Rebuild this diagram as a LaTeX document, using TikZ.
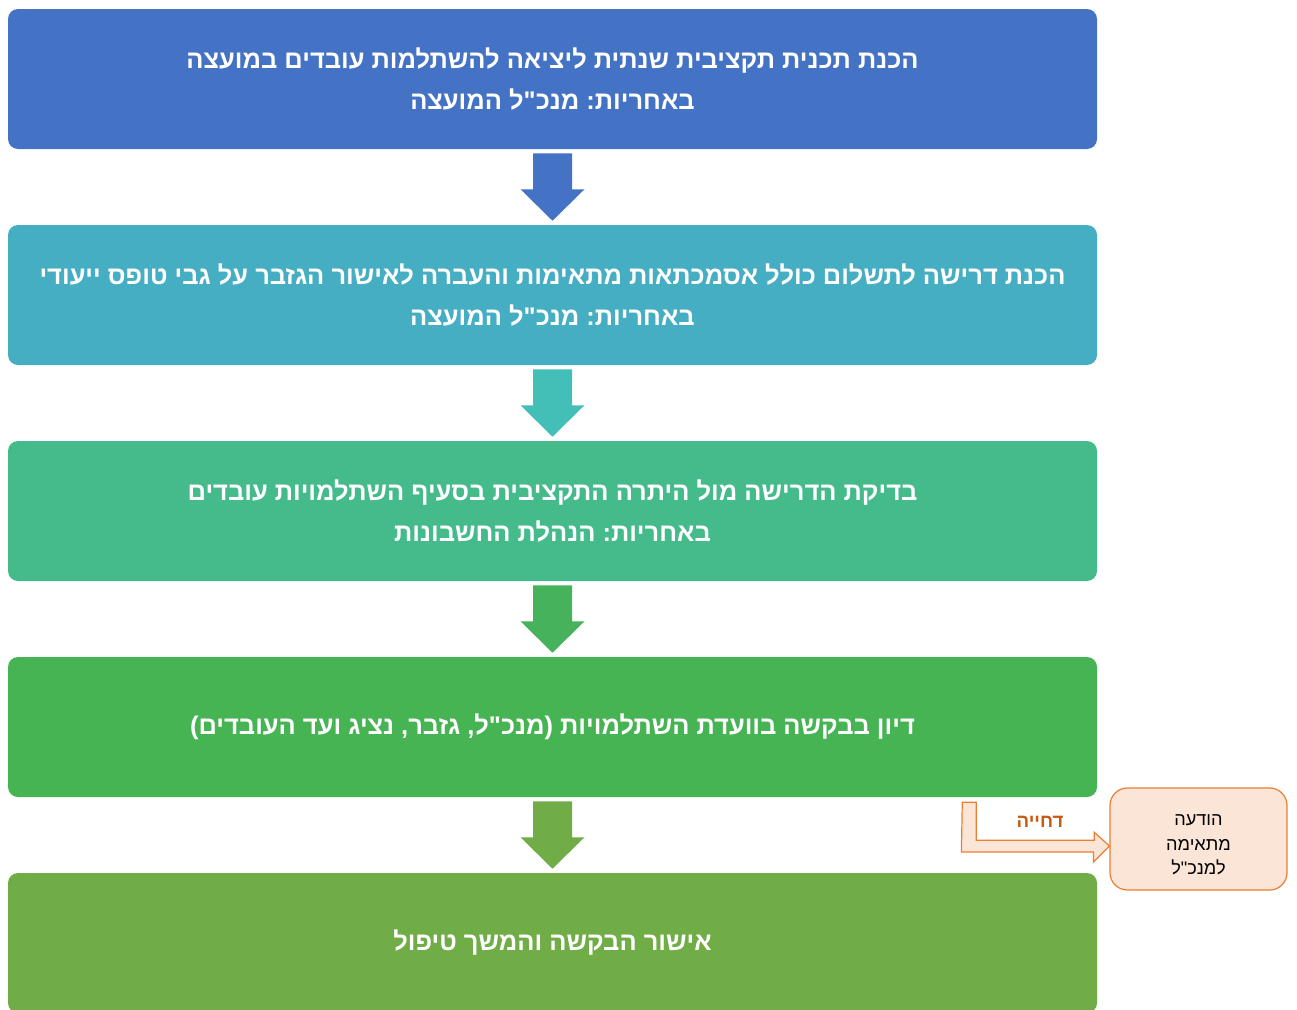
\documentclass[tikz,border=0pt]{standalone}
\usepackage{fontspec}
\setmainfont{Liberation Sans}
\newfontfamily\hebfont[Script=Hebrew]{Liberation Sans}
\TeXXeTstate=1
\frenchspacing
\usetikzlibrary{calc}
\definecolor{boxA}{HTML}{4472C4}
\definecolor{boxB}{HTML}{45AEC3}
\definecolor{boxC}{HTML}{45BB8C}
\definecolor{boxD}{HTML}{47B454}
\definecolor{boxE}{HTML}{70AD47}
\definecolor{arrB}{HTML}{43BFB7}
\definecolor{arrC}{HTML}{46B35C}
\definecolor{noteFill}{HTML}{FBE5D6}
\definecolor{noteLine}{HTML}{ED7D31}
\definecolor{rejText}{HTML}{C55A11}

% flat arrow between two blocks
\newcommand{\flowarrow}[3]{%
  \fill[#3] ($(#1.south)+(-19.5,4)$) -- ($(#1.south)+(19.5,4)$)
    -- ($(#1.south)+(19.5,40)$) -- ($(#1.south)+(32,40)$)
    -- ($(#2.north)+(0,-4)$) -- ($(#1.south)+(-32,40)$)
    -- ($(#1.south)+(-19.5,40)$) -- cycle;}

\begin{document}
\begin{tikzpicture}[x=0.75pt,y=-0.75pt,
    block/.style={rectangle, rounded corners=7.5pt, minimum width=816.75pt,
      minimum height=105pt, text=white, align=center,
      font=\hebfont\bfseries\fontsize{19.1}{30.75}\selectfont},
    note/.style={rectangle, rounded corners=13pt, draw=noteLine, fill=noteFill,
      line width=0.9pt, minimum width=132.75pt, minimum height=76.5pt}]
    \useasboundingbox (0,0) rectangle (1297,1010);
    \clip (0,0) rectangle (1297,1010);
    % blocks
    \node[block, fill=boxA] (plan) at (552.5,79)
      {\beginR הכנת תכנית תקציבית שנתית ליציאה להשתלמות עובדים במועצה\endR\\
       \beginR באחריות: מנכ"ל המועצה\endR};
    \node[block, fill=boxB] (request) at (552.5,295)
      {\beginR הכנת דרישה לתשלום כולל אסמכתאות מתאימות והעברה לאישור הגזבר על גבי טופס ייעודי\endR\\
       \beginR באחריות: מנכ"ל המועצה\endR};
    \node[block, fill=boxC] (check) at (552.5,511)
      {\beginR בדיקת הדרישה מול היתרה התקציבית בסעיף השתלמויות עובדים\endR\\
       \beginR באחריות: הנהלת החשבונות\endR};
    \node[block, fill=boxD] (decide) at (552.5,727)
      {\beginR דיון בבקשה בוועדת השתלמויות (מנכ"ל, גזבר, נציג ועד העובדים)\endR};
    \node[block, fill=boxE] (approve) at (552.5,943)
      {\beginR אישור הבקשה והמשך טיפול\endR};
    \node[note, label={[align=center, yshift=-4.5pt,
        font=\hebfont\fontsize{13.6}{18.5}\selectfont]center:{\beginR הודעה\endR\\
        \beginR מתאימה\endR\\ \beginR למנכ"ל\endR}}] (notify) at (1198.5,839) {};
    % arrows
    \flowarrow{plan}{request}{boxA}
    \flowarrow{request}{check}{arrB}
    \flowarrow{check}{decide}{arrC}
    \flowarrow{decide}{approve}{boxE}
    % rejection
    \coordinate (bend) at ($(decide.south east)+(-135,5)$);
    \draw[noteLine, fill=noteFill, line width=0.9pt] (bend) -- ++(14,0) -- ++(0,38)
      -- ++(118,0) -- ++(0,-8) -- ($(notify.west)+(0,7)$) -- ++(-16,16) -- ++(0,-10)
      -- ++(-132,0) -- cycle;
    \node[text=rejText, font=\hebfont\bfseries\fontsize{14}{16}\selectfont] (reject)
      at (1040,822) {\beginR דחייה\endR};
\end{tikzpicture}
\end{document}
